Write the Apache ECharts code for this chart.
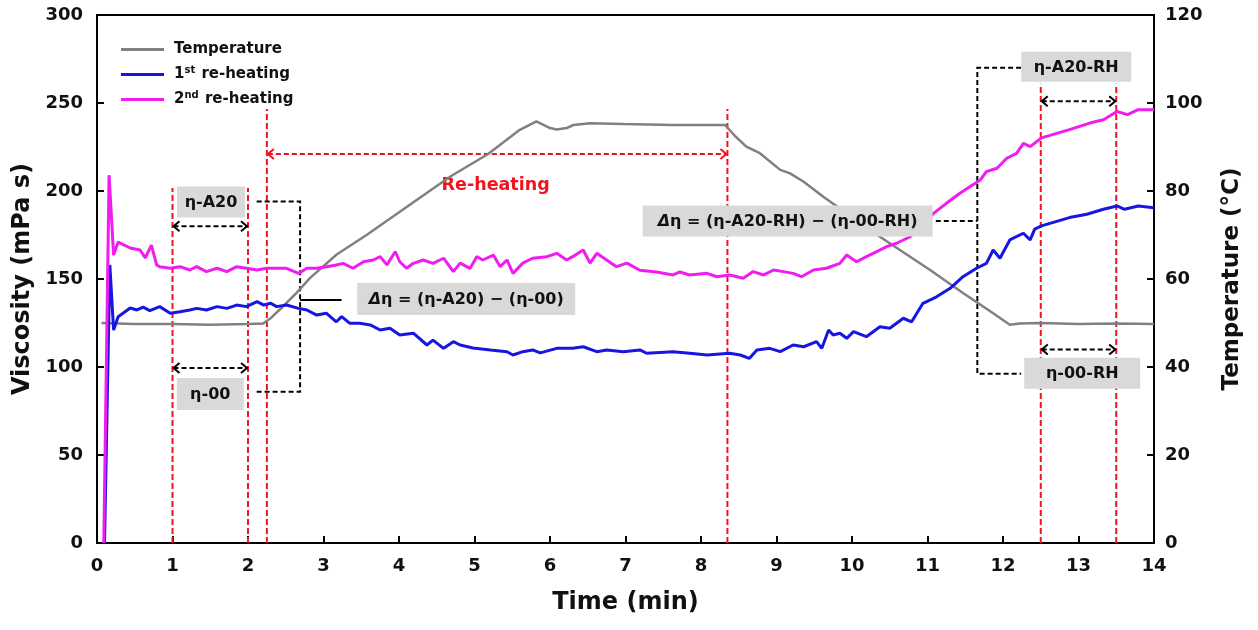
<!DOCTYPE html>
<html>
<head>
<meta charset="utf-8">
<script src="https://cdn.jsdelivr.net/npm/echarts@6/dist/echarts.min.js"></script>
<style>
  html, body { margin: 0; padding: 0; background: #fff; }
  #chart { width: 1258px; height: 630px; }
</style>
</head>
<body>
<div id="chart"></div>
<script>
// Temperature profile (°C, right axis) versus time (min)
const tempTime  = [0.06, 0.5, 1.0, 1.5, 2.0, 2.2, 2.3, 2.46, 2.64, 2.82, 3.17, 3.57, 4.68, 5.18, 5.6, 5.82, 6.0, 6.09, 6.22, 6.31, 6.53, 6.97, 7.63, 8.32, 8.45, 8.6, 8.78, 9.05, 9.18, 9.36, 9.62, 10.37, 11.03, 11.47, 11.87, 12.09, 12.22, 12.5, 13.0, 13.5, 14.0];
const tempValue = [50, 49.8, 49.8, 49.6, 49.8, 49.9, 51.1, 53.7, 56.8, 60.2, 65.5, 70, 83.3, 88.4, 93.9, 95.8, 94.3, 94.0, 94.3, 95, 95.4, 95.2, 95, 95, 92.5, 90.1, 88.6, 84.8, 84.0, 82.1, 78.7, 69.6, 62.1, 56.8, 52.2, 49.6, 49.9, 50, 49.8, 49.9, 49.8];

// Viscosity (mPa s) during the 1st re-heating
const firstTime = [0.10, 0.17, 0.22, 0.28, 0.44, 0.53, 0.61, 0.70, 0.83, 0.97, 1.10, 1.23, 1.32, 1.45, 1.59, 1.72, 1.85, 1.98, 2.12, 2.21, 2.30, 2.38, 2.51, 2.67, 2.78, 2.91, 3.04, 3.17, 3.24, 3.35, 3.48, 3.62, 3.75, 3.88, 4.01, 4.19, 4.37, 4.45, 4.59, 4.72, 4.81, 4.98, 5.21, 5.43, 5.51, 5.64, 5.77, 5.87, 6.09, 6.30, 6.44, 6.62, 6.75, 6.97, 7.19, 7.28, 7.63, 7.85, 8.08, 8.38, 8.52, 8.64, 8.74, 8.91, 9.05, 9.22, 9.36, 9.53, 9.60, 9.69, 9.75, 9.84, 9.93, 10.02, 10.19, 10.37, 10.50, 10.68, 10.79, 10.94, 11.12, 11.30, 11.47, 11.65, 11.78, 11.87, 11.96, 12.09, 12.27, 12.36, 12.42, 12.51, 12.88, 13.11, 13.33, 13.51, 13.61, 13.79, 14.0];
const firstVisc = [0, 158, 121, 128.6, 133.5, 132.4, 134, 132, 134.3, 130.5, 131.4, 132.4, 133.3, 132.4, 134.3, 133.3, 135.2, 134.3, 137.1, 135.2, 136.2, 134.3, 135.2, 133.3, 132.4, 129.5, 130.5, 125.7, 128.6, 124.8, 124.8, 123.9, 121, 122, 118.2, 119.2, 112.5, 115.3, 110.6, 114.4, 112.5, 110.8, 109.7, 108.7, 106.8, 108.7, 109.7, 108, 110.6, 110.6, 111.5, 108.7, 109.7, 108.7, 109.7, 107.8, 108.7, 107.8, 106.8, 107.8, 106.8, 104.9, 109.7, 110.6, 108.7, 112.5, 111.5, 114.4, 110.6, 121, 118.2, 119.2, 116.3, 120.1, 117.2, 122.9, 122, 127.7, 125.7, 136.2, 139.9, 144.7, 151.3, 156.1, 158.9, 166.5, 161.8, 172.2, 176, 172.2, 178.3, 180.2, 184.9, 186.8, 189.6, 191.5, 189.6, 191.5, 190.5];

// Viscosity (mPa s) during the 2nd re-heating
const secondTime = [0.09, 0.16, 0.22, 0.28, 0.44, 0.57, 0.64, 0.72, 0.79, 0.83, 0.97, 1.10, 1.23, 1.32, 1.45, 1.59, 1.72, 1.85, 1.98, 2.12, 2.25, 2.38, 2.51, 2.67, 2.78, 2.91, 3.04, 3.17, 3.26, 3.39, 3.53, 3.66, 3.75, 3.84, 3.95, 4.01, 4.10, 4.19, 4.32, 4.45, 4.59, 4.72, 4.81, 4.94, 5.03, 5.11, 5.25, 5.34, 5.43, 5.51, 5.64, 5.77, 5.96, 6.09, 6.22, 6.30, 6.44, 6.53, 6.62, 6.75, 6.88, 7.02, 7.19, 7.41, 7.63, 7.72, 7.85, 8.08, 8.21, 8.38, 8.56, 8.69, 8.83, 8.96, 9.09, 9.22, 9.33, 9.49, 9.66, 9.84, 9.93, 10.06, 10.19, 10.28, 10.46, 10.59, 10.77, 11.08, 11.25, 11.43, 11.56, 11.70, 11.78, 11.92, 12.05, 12.18, 12.27, 12.36, 12.51, 12.88, 13.15, 13.33, 13.51, 13.65, 13.79, 14.0];
const secondVisc = [0, 209, 163.6, 171, 167.6, 166.5, 162, 169.3, 158, 157, 156.1, 157, 155.1, 157, 154.2, 156.1, 154.2, 157, 156.1, 155.1, 156.1, 156.1, 156.1, 153.2, 156.1, 156.1, 157, 158, 158.9, 156.1, 159.8, 160.8, 162.7, 158, 165.5, 159.8, 156.1, 158.9, 160.8, 158.9, 161.8, 154.2, 159, 156, 162.7, 160.8, 163.6, 157, 160.8, 153.2, 159, 161.8, 162.7, 164.6, 160.8, 162.7, 166.5, 159, 164.6, 160.8, 157, 159, 155, 154, 152.3, 154, 152.3, 153.2, 151.3, 152.3, 150.4, 154.2, 152.3, 155.1, 154.2, 153.2, 151.3, 155.1, 156.1, 158.9, 163.6, 159.8, 162.7, 164.6, 168.4, 170.3, 174, 187.3, 193, 198.7, 202.4, 206.3, 211, 212.9, 218.6, 221.4, 227.1, 225.2, 230.2, 234.9, 238.6, 240.5, 245.2, 243.4, 246.2, 246.2];

// Axis ticks
const timeTicks = { min: 0, max: 14, step: 1 };
const viscTicks = { min: 0, max: 300, step: 50 };
const tempTicks = { min: 0, max: 120, step: 20 };

// Guide lines: time of each red marker and how high it reaches (viscosity units)
const markerTime = [1, 2, 2.25, 8.35, 12.5, 13.5];
const markerTop  = [201.7, 201.7, 246.6, 246.6, 261, 261];

const zip = (a, b) => a.map((v, i) => [v, b[i]]);

const FONT = '"DejaVu Sans", "Liberation Sans", Arial, sans-serif';
const RED = '#f0141e';
const BOX_FILL = '#d9d9d9';

// Overlay drawn beneath the curves: red markers, double arrows and brackets
const guides = [];
markerTime.forEach((t, i) => guides.push({ kind: 'line', pts: [[t, 0], [t, markerTop[i]]], color: RED, dash: [6, 3] }));
guides.push({ kind: 'arrow', from: [2.25, 221], to: [8.35, 221], color: RED });
guides.push({ kind: 'arrow', from: [1, 180], to: [2, 180], color: '#000' });
guides.push({ kind: 'arrow', from: [1, 99.4], to: [2, 99.4], color: '#000' });
guides.push({ kind: 'arrow', from: [12.5, 251], to: [13.5, 251], color: '#000' });
guides.push({ kind: 'arrow', from: [12.5, 110], to: [13.5, 110], color: '#000' });
guides.push({ kind: 'line', pts: [[2.115, 194], [2.69, 194], [2.69, 86], [2.115, 86]], color: '#000', dash: [5, 3] });
guides.push({ kind: 'line', pts: [[2.69, 138], [3.24, 138]], color: '#000', dash: null });
guides.push({ kind: 'line', pts: [[12.24, 270], [11.66, 270], [11.66, 96.2], [12.24, 96.2]], color: '#000', dash: [5, 3] });
guides.push({ kind: 'line', pts: [[11.11, 183], [11.66, 183]], color: '#000', dash: [5, 3] });
guides.push({ kind: 'text', at: [5.28, 203], text: 'Re-heating', color: RED, size: 17.5 });

// Labelled grey boxes drawn above the curves
const boxes = [
  { at: [1.51, 193.7], w: 68, h: 31, text: 'η-A20' },
  { at: [1.50, 84.7],  w: 67, h: 32, text: 'η-00' },
  { at: [4.89, 138.6], w: 218, h: 32, text: '{it|Δ}η = (η-A20) − (η-00)' },
  { at: [9.147, 183],  w: 290, h: 31, text: '{it|Δ}η = (η-A20-RH) − (η-00-RH)' },
  { at: [12.97, 270.6], w: 110, h: 30, text: 'η-A20-RH' },
  { at: [13.05, 96.5], w: 116, h: 31, text: 'η-00-RH' }
];

function strokeStyle(color, dash) {
  return { stroke: color, lineWidth: 2, fill: null, lineDash: dash || null };
}

function renderGuide(params, api) {
  const g = guides[params.dataIndex];
  if (g.kind === 'line') {
    return { type: 'polyline', shape: { points: g.pts.map(p => api.coord(p)) }, style: strokeStyle(g.color, g.dash) };
  }
  if (g.kind === 'arrow') {
    const a = api.coord(g.from), b = api.coord(g.to), h = 7, v = 5;
    return {
      type: 'group',
      children: [
        { type: 'line', shape: { x1: a[0] + 1, y1: a[1], x2: b[0] - 1, y2: b[1] }, style: strokeStyle(g.color, [5, 3]) },
        { type: 'polyline', shape: { points: [[a[0] + h, a[1] - v], [a[0] + 1, a[1]], [a[0] + h, a[1] + v]] }, style: strokeStyle(g.color) },
        { type: 'polyline', shape: { points: [[b[0] - h, b[1] - v], [b[0] - 1, b[1]], [b[0] - h, b[1] + v]] }, style: strokeStyle(g.color) }
      ]
    };
  }
  const c = api.coord(g.at);
  return {
    type: 'text', x: c[0], y: c[1],
    style: { text: g.text, fill: g.color, fontFamily: FONT, fontWeight: 'bold', fontSize: g.size, align: 'center', verticalAlign: 'middle' }
  };
}

function renderBox(params, api) {
  const b = boxes[params.dataIndex];
  const c = api.coord(b.at);
  return {
    type: 'group',
    children: [
      { type: 'rect', shape: { x: c[0] - b.w / 2, y: c[1] - b.h / 2, width: b.w, height: b.h }, style: { fill: BOX_FILL } },
      {
        type: 'text', x: c[0], y: c[1] + 1,
        style: {
          text: b.text, fill: '#111', fontFamily: FONT, fontWeight: 'bold', fontSize: 16,
          align: 'center', verticalAlign: 'middle',
          rich: { it: { fontStyle: 'italic', fontWeight: 'bold', fontFamily: FONT, fontSize: 16, fill: '#111' } }
        }
      }
    ]
  };
}

const axisLabelStyle = { fontFamily: FONT, fontWeight: 'bold', fontSize: 18, color: '#111' };
const axisNameStyle = { fontFamily: FONT, fontWeight: 'bold', fontSize: 24, color: '#111' };
const axisLine = { show: true, lineStyle: { color: '#000', width: 2 } };
const axisTick = { show: true, inside: true, length: 7, lineStyle: { color: '#000', width: 2 } };

const chart = echarts.init(document.getElementById('chart'), null, { renderer: 'canvas' });
chart.setOption({
  animation: false,
  backgroundColor: '#fff',
  grid: { left: 97, right: 104, top: 15, bottom: 87, show: true, borderColor: '#000', borderWidth: 2 },
  legend: {
    orient: 'vertical', left: 116, top: 37, icon: 'rect', itemWidth: 43, itemHeight: 3, itemGap: 8,
    data: ['Temperature', '1st re-heating', '2nd re-heating'],
    formatter: function (name) {
      if (name === '1st re-heating') return '{t|1}{s|st}{t| re-heating}';
      if (name === '2nd re-heating') return '{t|2}{s|nd}{t| re-heating}';
      return '{t|' + name + '}';
    },
    textStyle: {
      padding: [0, 0, 0, 5],
      rich: {
        t: { fontFamily: FONT, fontWeight: 'bold', fontSize: 15, color: '#111' },
        s: { fontFamily: FONT, fontWeight: 'bold', fontSize: 10, color: '#111', padding: [0, 1, 9, 0] }
      }
    }
  },
  xAxis: {
    type: 'value', min: timeTicks.min, max: timeTicks.max, interval: timeTicks.step,
    name: 'Time (min)', nameLocation: 'middle', nameGap: 48, nameTextStyle: axisNameStyle,
    axisLine: axisLine, axisTick: axisTick, splitLine: { show: false },
    axisLabel: Object.assign({ margin: 14 }, axisLabelStyle)
  },
  yAxis: [
    {
      type: 'value', min: viscTicks.min, max: viscTicks.max, interval: viscTicks.step, position: 'left',
      name: 'Viscosity (mPa s)', nameLocation: 'middle', nameGap: 60, nameTextStyle: axisNameStyle,
      axisLine: axisLine, axisTick: axisTick, splitLine: { show: false },
      axisLabel: Object.assign({ margin: 14 }, axisLabelStyle)
    },
    {
      type: 'value', min: tempTicks.min, max: tempTicks.max, interval: tempTicks.step, position: 'right',
      name: 'Temperature (°C)', nameLocation: 'middle', nameGap: 67, nameRotate: 90,
      nameTextStyle: Object.assign({}, axisNameStyle, { fontSize: 23 }),
      axisLine: axisLine, axisTick: axisTick, splitLine: { show: false },
      axisLabel: Object.assign({ margin: 11 }, axisLabelStyle)
    }
  ],
  series: [
    {
      type: 'custom', name: 'guides', coordinateSystem: 'cartesian2d', clip: false, z: 1, silent: true,
      data: guides.map(() => [0, 0]), renderItem: renderGuide
    },
    {
      name: 'Temperature', type: 'line', yAxisIndex: 1, symbol: 'none', z: 2,
      lineStyle: { color: '#808080', width: 2.5 }, itemStyle: { color: '#808080' },
      data: zip(tempTime, tempValue)
    },
    {
      name: '1st re-heating', type: 'line', yAxisIndex: 0, symbol: 'none', z: 3,
      lineStyle: { color: '#1616e0', width: 3 }, itemStyle: { color: '#1616e0' },
      data: zip(firstTime, firstVisc)
    },
    {
      name: '2nd re-heating', type: 'line', yAxisIndex: 0, symbol: 'none', z: 3,
      lineStyle: { color: '#f01cf0', width: 3 }, itemStyle: { color: '#f01cf0' },
      data: zip(secondTime, secondVisc)
    },
    {
      type: 'custom', name: 'boxes', coordinateSystem: 'cartesian2d', clip: false, z: 5, silent: true,
      data: boxes.map(() => [0, 0]), renderItem: renderBox
    }
  ]
});
</script>
</body>
</html>
